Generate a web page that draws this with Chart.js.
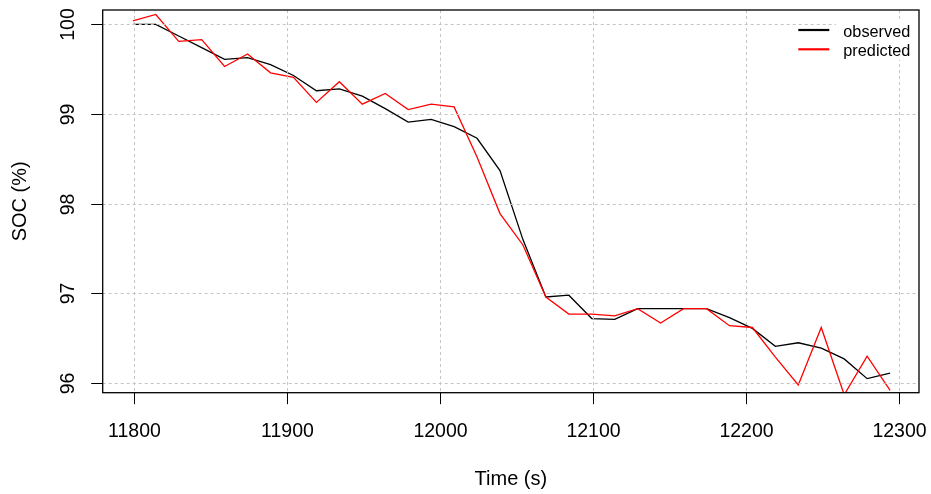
<!DOCTYPE html>
<html>
<head>
<meta charset="utf-8">
<script src="https://cdn.jsdelivr.net/npm/chart.js@4/dist/chart.umd.min.js"></script>
<style>
html,body{margin:0;padding:0;background:#fff;}
canvas{display:block;}
</style>
</head>
<body>
<canvas id="c" width="931" height="494" style="width:931px;height:494px"></canvas>
<script>
const times = [11799, 11814, 11829, 11844, 11859, 11874, 11889, 11904, 11919, 11934,
  11949, 11964, 11979, 11994, 12009, 12024, 12039, 12054, 12069, 12084,
  12099, 12114, 12129, 12144, 12159, 12174, 12189, 12204, 12219, 12234,
  12249, 12264, 12279, 12294];
const observed = [100.00, 100.00, 99.87, 99.74, 99.61, 99.63, 99.55, 99.43, 99.26, 99.28,
  99.20, 99.06, 98.91, 98.94, 98.86, 98.73, 98.37, 97.60, 96.96, 96.98,
  96.72, 96.71, 96.83, 96.83, 96.83, 96.83, 96.73, 96.61, 96.41, 96.45,
  96.39, 96.27, 96.05, 96.11];
const predicted = [100.04, 100.11, 99.81, 99.83, 99.53, 99.67, 99.46, 99.41, 99.13, 99.36,
  99.11, 99.23, 99.05, 99.11, 99.08, 98.52, 97.89, 97.54, 96.96, 96.77,
  96.77, 96.75, 96.83, 96.67, 96.83, 96.83, 96.64, 96.62, 96.29, 95.98,
  96.62, 95.87, 96.30, 95.92];
const xTicks = [11800, 11900, 12000, 12100, 12200, 12300];
const yTicks = [96, 97, 98, 99, 100];
const xTitle = 'Time (s)';
const yTitle = 'SOC (%)';
const seriesNames = ['observed', 'predicted'];
const seriesColors = ['#000000', '#ff0000'];

const FONT = '"Liberation Sans", Arial, Helvetica, sans-serif';

const rAxes = {
  id: 'rAxes',
  afterDatasetsDraw(chart) {
    const ctx = chart.ctx;
    const a = chart.chartArea;
    const xs = chart.scales.x, ys = chart.scales.y;
    ctx.save();
    // grid (drawn over the lines, like R's grid())
    ctx.strokeStyle = '#c4c4c4';
    ctx.lineWidth = 1;
    ctx.setLineDash([3, 3]);
    xTicks.forEach(v => {
      const x = Math.round(xs.getPixelForValue(v)) + 0.5;
      ctx.beginPath(); ctx.moveTo(x, a.top); ctx.lineTo(x, a.bottom); ctx.stroke();
    });
    yTicks.forEach(v => {
      const y = Math.round(ys.getPixelForValue(v)) + 0.5;
      ctx.beginPath(); ctx.moveTo(a.left, y); ctx.lineTo(a.right, y); ctx.stroke();
    });
    ctx.setLineDash([]);
    // legend background
    ctx.fillStyle = '#ffffff';
    ctx.fillRect(836, 20, a.right - 837, 40);
    // box
    ctx.strokeStyle = '#000';
    ctx.lineWidth = 1.3;
    ctx.strokeRect(a.left, a.top, a.right - a.left, a.bottom - a.top);
    // ticks
    ctx.lineWidth = 1;
    ctx.fillStyle = '#000';
    ctx.font = '19.5px ' + FONT;
    ctx.textAlign = 'center';
    ctx.textBaseline = 'alphabetic';
    xTicks.forEach(v => {
      const x = Math.round(xs.getPixelForValue(v)) + 0.5;
      ctx.beginPath(); ctx.moveTo(x, a.bottom); ctx.lineTo(x, a.bottom + 11.5); ctx.stroke();
      ctx.fillText(String(v), x, 436.7);
    });
    yTicks.forEach(v => {
      const y = Math.round(ys.getPixelForValue(v)) + 0.5;
      ctx.beginPath(); ctx.moveTo(a.left, y); ctx.lineTo(a.left - 11.5, y); ctx.stroke();
      ctx.save();
      ctx.translate(74, y);
      ctx.rotate(-Math.PI / 2);
      ctx.fillText(String(v), 0, 0);
      ctx.restore();
    });
    // titles
    ctx.font = '20px ' + FONT;
    ctx.fillText(xTitle, (a.left + a.right) / 2, 485);
    ctx.save();
    ctx.translate(26, (a.top + a.bottom) / 2);
    ctx.rotate(-Math.PI / 2);
    ctx.fillText(yTitle, 0, 0);
    ctx.restore();
    // legend
    ctx.font = '16.3px ' + FONT;
    ctx.textAlign = 'left';
    const ly = [30, 49.3];
    seriesNames.forEach((n, i) => {
      ctx.strokeStyle = seriesColors[i];
      ctx.lineWidth = 2.2;
      ctx.beginPath(); ctx.moveTo(798.3, ly[i]); ctx.lineTo(829.3, ly[i]); ctx.stroke();
      ctx.fillStyle = '#000';
      ctx.fillText(n, 843.3, ly[i] + 6.5);
    });
    ctx.restore();
  }
};

new Chart(document.getElementById('c'), {
  type: 'line',
  data: {
    datasets: [
      {
        label: seriesNames[1],
        data: times.map((t, i) => ({x: t, y: predicted[i]})),
        borderColor: seriesColors[1],
        borderWidth: 1.3,
        pointRadius: 0,
        tension: 0,
        fill: false,
        order: 0
      },
      {
        label: seriesNames[0],
        data: times.map((t, i) => ({x: t, y: observed[i]})),
        borderColor: seriesColors[0],
        borderWidth: 1.3,
        pointRadius: 0,
        tension: 0,
        fill: false,
        order: 1
      }
    ]
  },
  options: {
    responsive: false,
    animation: false,
    devicePixelRatio: 1,
    layout: { padding: { left: 102.7, top: 10, right: 12, bottom: 101.3 } },
    plugins: { legend: { display: false }, tooltip: { enabled: false } },
    scales: {
      x: { type: 'linear', min: 11779.3, max: 12312.9, display: false },
      y: { type: 'linear', min: 95.893, max: 100.16, display: false }
    }
  },
  plugins: [rAxes]
});
</script>
</body>
</html>
